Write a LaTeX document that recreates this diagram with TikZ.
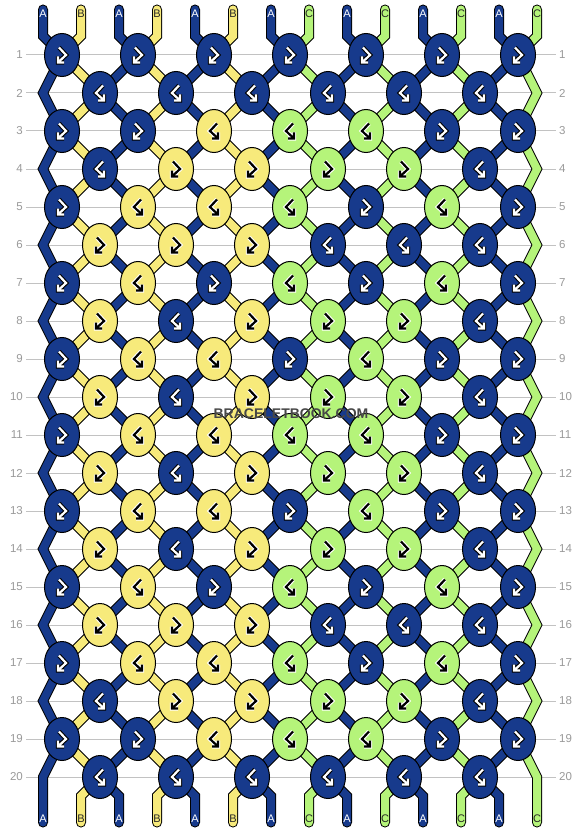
\documentclass[tikz,border=0pt]{standalone}
\usepackage{fontspec}
\setmainfont{Liberation Sans}
\usetikzlibrary{shapes.geometric}

\definecolor{bbBlue}{HTML}{173A8C}
\definecolor{bbYellow}{HTML}{F7EA7B}
\definecolor{bbGreen}{HTML}{B5F47A}
\definecolor{guideGray}{HTML}{C2C2C2}
\definecolor{numGray}{HTML}{9A9A9A}

\pgfdeclarelayer{grid}
\pgfdeclarelayer{strands}
\pgfsetlayers{grid,strands,main}

\def\kA{A}

\tikzset{
  knot/.style={ellipse, draw=black, line width=1pt, minimum width=35pt, minimum height=43pt, inner sep=0pt},
  knotA/.style={knot, fill=bbBlue},
  knotB/.style={knot, fill=bbYellow},
  knotC/.style={knot, fill=bbGreen},
  strandedge/.style={draw=black, line width=10pt, line cap=round, line join=miter},
  strandA/.style={draw=bbBlue, line width=8pt, line cap=round, line join=miter},
  strandB/.style={draw=bbYellow, line width=8pt, line cap=round, line join=miter},
  strandC/.style={draw=bbGreen, line width=8pt, line cap=round, line join=miter},
  tagA/.style={font=\fontsize{11}{11}\selectfont, text=white, inner sep=0pt},
  tagB/.style={font=\fontsize{11}{11}\selectfont, text=black!85, inner sep=0pt},
  tagC/.style={tagB},
  rownum/.style={font=\fontsize{11.5}{12}\selectfont, text=numGray, inner sep=0pt},
  guide/.style={draw=guideGray, line width=1pt},
  wmtext/.style={font=\bfseries\fontsize{14}{14}\selectfont, inner sep=0pt},
  fbglyph/.pic={
    \draw[draw=\glout, line width=4.4pt, line join=miter] (-3,-7.5) -- (4,0) -- (-4,7.5) (-4,1.5) -- (-4,7.5) -- (2,7.5);
    \draw[draw=\glin, line width=2.2pt, line join=miter] (-3,-7.5) -- (4,0) -- (-4,7.5) (-4,1.5) -- (-4,7.5) -- (2,7.5);
  },
  bfglyph/.pic={
    \draw[draw=\glout, line width=4.4pt, line join=miter] (3,-7.5) -- (-4,0) -- (4,7.5) (4,1.5) -- (4,7.5) -- (-2,7.5);
    \draw[draw=\glin, line width=2.2pt, line join=miter] (3,-7.5) -- (-4,0) -- (4,7.5) (4,1.5) -- (4,7.5) -- (-2,7.5);
  },
}

\begin{document}
\begin{tikzpicture}[x=1pt, y=-1pt]
  \useasboundingbox (0,0) rectangle (582,832);
  \begin{pgfonlayer}{grid}
    \fill[white] (0,0) rectangle (582,832);
  \end{pgfonlayer}

  % row numbers and guide lines
  \foreach \r in {1,...,20} {
    \node[rownum, anchor=east] (nl\r) at (23,{55+38*(\r-1)}) {\r};
    \node[rownum, anchor=west] (nr\r) at (559,{55+38*(\r-1)}) {\r};
    \begin{pgfonlayer}{grid}
      \draw[guide] ([xshift=3pt]nl\r.east) -- ([xshift=-3pt]nr\r.west);
    \end{pgfonlayer}
  }

  % edge turns of the outer strands
  \foreach \r in {2,4,...,20} {
    \coordinate (k\r_-1) at (43,{55+38*(\r-1)});
    \coordinate (k\r_6) at (537,{55+38*(\r-1)});
  }

  % knots, row by row
  \foreach \r/\row in {
      1/{A,A,A,A,A,A,A}, 2/{A,A,A,A,A,A},
      3/{A,A,B,C,C,A,A}, 4/{A,B,B,C,C,A},
      5/{A,B,B,C,A,C,A}, 6/{B,B,B,A,A,A},
      7/{A,B,A,C,A,C,A}, 8/{B,A,B,C,C,A},
      9/{A,B,B,A,C,A,A}, 10/{B,A,B,C,C,A},
      11/{A,B,B,C,C,A,A}, 12/{B,A,B,C,C,A},
      13/{A,B,B,A,C,A,A}, 14/{B,A,B,C,C,A},
      15/{A,B,A,C,A,C,A}, 16/{B,B,B,A,A,A},
      17/{A,B,B,C,A,C,A}, 18/{A,B,B,C,C,A},
      19/{A,A,B,C,C,A,A}, 20/{A,A,A,A,A,A}} {
    \foreach \kc [count=\k from 0] in \row {
      \ifodd\r \def\kx{62+76*\k}\else \def\kx{100+76*\k}\fi
      \node[knot\kc] (k\r_\k) at ({\kx},{55+38*(\r-1)}) {};
      \ifx\kc\kA \def\glin{white}\def\glout{black}\else \def\glin{black}\def\glout{white}\fi
      \ifodd\r
        \ifx\kc\kA \pic at (k\r_\k) {fbglyph};\else \pic at (k\r_\k) {bfglyph};\fi
      \else
        \ifx\kc\kA \pic at (k\r_\k) {bfglyph};\else \pic at (k\r_\k) {fbglyph};\fi
      \fi
    }
  }

  % strands
  \foreach \p/\sc in {0/A,1/B,2/A,3/B,4/A,5/B,6/A,7/C,8/A,9/C,10/A,11/C,12/A,13/C} {
    \coordinate (st\p) at ({43+38*\p},9.5);
    \coordinate (sb\p) at ({43+38*\p},36);
    \coordinate (se\p) at ({43+38*\p},796);
    \coordinate (sf\p) at ({43+38*\p},822.5);
    \begin{pgfonlayer}{strands}
      \draw[strandedge] (st\p) -- (sb\p)
        \foreach \r [evaluate={\r as \k using int(floor((\p-1+mod(\r,2))/2))}] in {1,...,20} {-- (k\r_\k.center)}
        -- (se\p) -- (sf\p);
      \draw[strand\sc] (st\p) -- (sb\p)
        \foreach \r [evaluate={\r as \k using int(floor((\p-1+mod(\r,2))/2))}] in {1,...,20} {-- (k\r_\k.center)}
        -- (se\p) -- (sf\p);
    \end{pgfonlayer}
    \node[tag\sc] (lt\p) at ({43+38*\p},13.5) {\sc};
    \node[tag\sc] (lb\p) at ({43+38*\p},819) {\sc};
  }

  \node[wmtext, text=black!72] (wm) at (291,414) {BRACELETBOOK.COM};
\end{tikzpicture}
\end{document}
